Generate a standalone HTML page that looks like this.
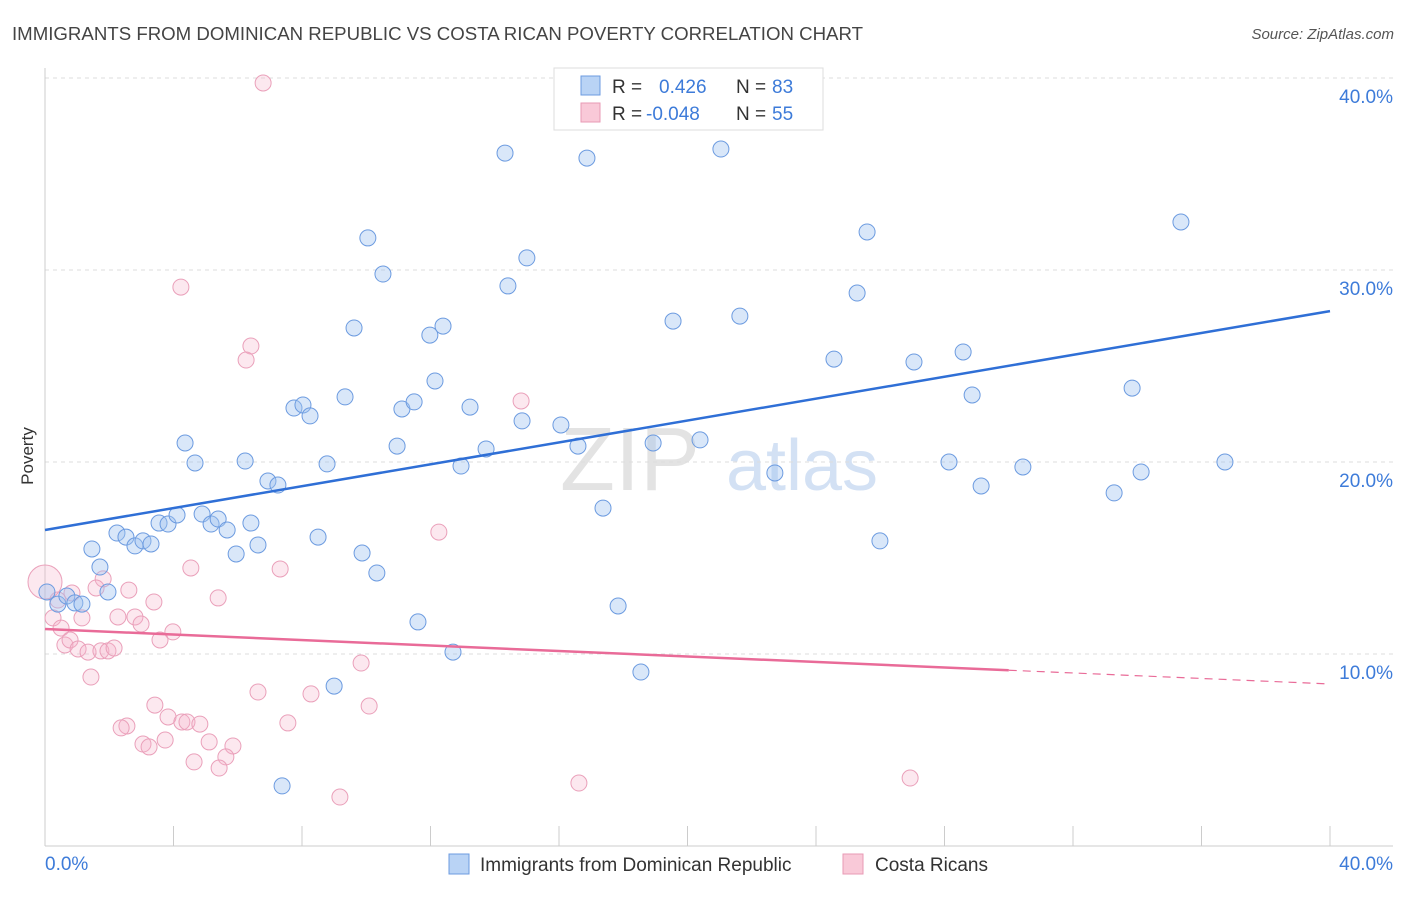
<!DOCTYPE html>
<html><head><meta charset="utf-8"><style>
body{margin:0;background:#fff;font-family:"Liberation Sans",sans-serif;}
svg text{font-family:"Liberation Sans",sans-serif;}
</style></head><body>
<svg id="chart" width="1406" height="892" viewBox="0 0 1406 892" xmlns="http://www.w3.org/2000/svg">
<text x="12" y="40" font-size="18" fill="#444" textLength="851" lengthAdjust="spacingAndGlyphs">IMMIGRANTS FROM DOMINICAN REPUBLIC VS COSTA RICAN POVERTY CORRELATION CHART</text>
<text x="1394" y="39" font-size="15" fill="#555" font-style="italic" text-anchor="end">Source: ZipAtlas.com</text>
<text transform="translate(33,456) rotate(-90)" font-size="17" fill="#333" text-anchor="middle">Poverty</text>
<g>
<text x="630" y="490" font-size="90" fill="#ddd" font-family="Liberation Serif" text-anchor="middle" opacity="0.8">ZIP</text>
<text x="802" y="490" font-size="72" fill="#c9daf2" text-anchor="middle" opacity="0.8">atlas</text>
</g>
<g id="grid"></g><g id="axes"></g><g id="marks"></g><g id="trends"></g>
<g>
<rect x="554" y="68" width="269" height="62" fill="#fff" stroke="#ddd"/>
<rect x="581" y="76" width="19" height="19" fill="#b9d3f5" stroke="#6c9be0"/>
<text x="612" y="93" font-size="19" fill="#333">R =</text><text x="659" y="93" font-size="19" fill="#3d7bd9">0.426</text>
<text x="736" y="93" font-size="19" fill="#333">N =</text><text x="772" y="93" font-size="19" fill="#3d7bd9">83</text>
<rect x="581" y="103" width="19" height="19" fill="#f9c9d8" stroke="#e89ab5"/>
<text x="612" y="120" font-size="19" fill="#333">R =</text><text x="646" y="120" font-size="19" fill="#3d7bd9">-0.048</text>
<text x="736" y="120" font-size="19" fill="#333">N =</text><text x="772" y="120" font-size="19" fill="#3d7bd9">55</text>
</g>
<g>
<rect x="449" y="854" width="20" height="20" fill="#b9d3f5" stroke="#6c9be0"/>
<text x="480" y="871" font-size="19" fill="#333">Immigrants from Dominican Republic</text>
<rect x="843" y="854" width="20" height="20" fill="#f9c9d8" stroke="#e89ab5"/>
<text x="875" y="871" font-size="19" fill="#333">Costa Ricans</text>
</g>
</svg>
<script>
const blueX=[0.40,0.68,0.93,1.15,1.46,1.71,1.96,2.24,2.52,2.80,3.05,3.30,3.55,3.83,4.11,4.36,4.67,4.89,5.17,5.39,5.67,5.95,6.23,6.41,6.63,6.94,7.25,7.75,8.03,8.25,8.50,8.78,9.00,9.34,9.62,9.87,10.05,10.33,10.52,10.96,11.11,11.49,11.61,11.98,12.14,12.39,12.70,12.95,13.23,13.73,14.32,14.41,14.85,15.00,16.06,16.59,16.87,17.37,17.84,18.55,18.93,19.55,20.39,21.04,21.63,22.72,24.56,25.28,25.59,25.99,27.05,28.14,28.58,28.86,29.14,30.44,33.28,33.84,34.12,35.36,36.73,7.38,0.06];
const blueY=[12.60,13.02,12.66,12.60,15.47,14.53,13.23,16.30,16.09,15.63,15.89,15.73,16.82,16.77,17.24,20.99,19.95,17.29,16.77,17.03,16.46,15.21,20.05,16.82,15.68,19.01,18.80,22.81,22.97,22.40,16.09,19.90,8.33,23.39,26.98,15.26,31.67,14.22,29.79,20.83,22.76,23.13,11.67,26.61,24.22,27.08,10.10,19.79,22.86,20.68,36.09,29.17,22.14,30.63,21.93,20.83,35.83,17.60,12.50,9.06,20.99,27.34,21.15,36.30,27.60,19.43,25.36,28.80,31.98,15.89,25.21,20.00,25.73,23.49,18.75,19.74,18.39,23.85,19.48,32.50,20.00,3.13,13.23];
const pinkX=[6.79,4.23,6.41,6.26,14.82,12.26,4.54,7.32,5.39,2.61,3.39,1.81,1.59,0.84,0.40,0.25,0.50,1.15,2.27,2.80,2.99,3.98,3.58,0.62,0.78,1.03,1.34,1.74,1.96,2.15,1.43,9.84,6.63,8.28,10.09,7.56,3.42,3.83,4.26,4.42,4.82,2.55,2.37,3.05,3.24,3.74,5.11,5.85,5.63,4.64,5.42,9.18,16.62,26.93,0];
const pinkY=[39.74,29.11,26.04,25.31,23.18,16.35,14.48,14.43,12.92,13.33,12.71,13.91,13.44,13.18,12.81,11.88,11.35,11.88,11.93,11.93,11.56,11.15,10.73,10.47,10.73,10.26,10.10,10.16,10.16,10.31,8.80,9.53,8.02,7.92,7.29,6.41,7.34,6.72,6.46,6.46,6.35,6.25,6.15,5.31,5.16,5.52,5.42,5.21,4.64,4.38,4.06,2.55,3.28,3.54,13.75];
const pinkR=[];pinkX.forEach((_,i)=>pinkR.push(i===pinkX.length-1?17:8));
const blueTrend=[16.46,27.86];
const pinkTrend=[11.30,8.44];
const pinkSolidEnd=30;
const yTicks=[10,20,30,40];
const xTicks=[0,4,8,12,16,20,24,28,32,36,40];
const NS="http://www.w3.org/2000/svg";
const xs=v=>45+v*(1285/40), ys=v=>846-v*19.2;
function mk(tag,attrs,parent){const e=document.createElementNS(NS,tag);for(const k in attrs)e.setAttribute(k,attrs[k]);parent.appendChild(e);return e;}
const grid=document.getElementById('grid'),axes=document.getElementById('axes'),marks=document.getElementById('marks'),trends=document.getElementById('trends');
yTicks.forEach(t=>{
 const l=mk('line',{x1:45,x2:1393,y1:ys(t),y2:ys(t),stroke:'#ddd','stroke-dasharray':'4,4'},grid);
 
 
 const tx=mk('text',{x:1393,y:ys(t)+25,'font-size':19,fill:'#3d7bd9','text-anchor':'end'},grid);
 tx.textContent=t.toFixed(1)+'%';
 
 
});
const ya=mk('line',{x1:45,x2:45,y1:68,y2:846,stroke:'#ccc'},axes);


const xa=mk('line',{x1:45,x2:1393,y1:846,y2:846,stroke:'#ccc'},axes);


xTicks.forEach(t=>{
 const l=mk('line',{x1:xs(t),x2:xs(t),y1:826,y2:846,stroke:'#ccc'},axes);
 
 
});
[[0,'start',45],[40,'end',1393]].forEach(([t,a,x])=>{
 const tx=mk('text',{x:x,y:870,'font-size':19,fill:'#3d7bd9','text-anchor':a},axes);
 tx.textContent=t.toFixed(1)+'%';
 
 
});
pinkX.forEach((x,i)=>{
 const c=mk('circle',{cx:xs(x),cy:ys(pinkY[i]),r:pinkR[i],fill:'rgba(246,180,202,0.3)',stroke:'#eaa0ba','stroke-width':1},marks);
 
 
});
blueX.forEach((x,i)=>{
 const c=mk('circle',{cx:xs(x),cy:ys(blueY[i]),r:8,fill:'rgba(160,196,240,0.4)',stroke:'#6c9be0','stroke-width':1},marks);
 
 
});
const bt=mk('line',{x1:xs(0),y1:ys(blueTrend[0]),x2:xs(40),y2:ys(blueTrend[1]),stroke:'#2f6fd6','stroke-width':2.5},trends);


const pAt=x=>pinkTrend[0]+(pinkTrend[1]-pinkTrend[0])*x/40;
const pt=mk('line',{x1:xs(0),y1:ys(pAt(0)),x2:xs(pinkSolidEnd),y2:ys(pAt(pinkSolidEnd)),stroke:'#e96b98','stroke-width':2.5},trends);


const pd=mk('line',{x1:xs(pinkSolidEnd),y1:ys(pAt(pinkSolidEnd)),x2:xs(40),y2:ys(pAt(40)),stroke:'#e96b98','stroke-width':1.2,'stroke-dasharray':'8,6'},trends);


</script>
</body></html>
